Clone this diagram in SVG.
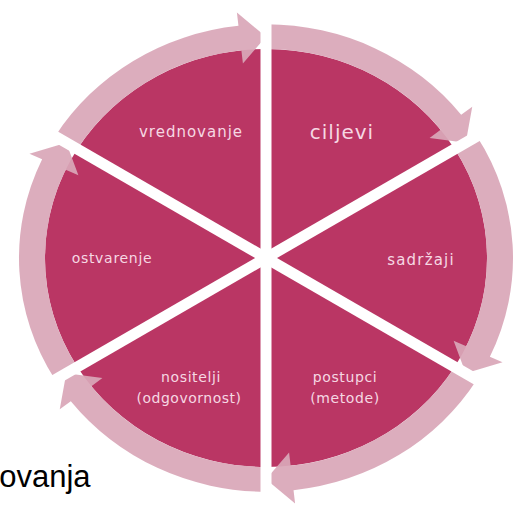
<svg xmlns="http://www.w3.org/2000/svg" width="520" height="509" viewBox="0 0 520 509">
<style>
.wedge{fill:#BA3664}
.arrow{fill:#D9A7B8;opacity:0.93}
.gap{stroke:#FFFFFF;stroke-width:11;fill:none}
.lbl{font-family:"DejaVu Sans",sans-serif;fill:#F6D8E3;text-anchor:middle}
</style>
<rect width="520" height="509" fill="#FFFFFF"/>
<g id="ciljevi">
<path class="wedge" d="M266 258 L266 48.93 A221 209.07 0 0 1 454.65 149.07 Z"/>
<text class="lbl" x="342" y="139" font-size="20" letter-spacing="1" fill="#FBEAF0">ciljevi</text>
</g>
<g id="sadrzaji">
<path class="wedge" d="M266 258 L454.65 149.07 A221 209.07 0 0 1 454.65 366.93 Z"/>
<text class="lbl" x="421" y="265" font-size="15" letter-spacing="1.2">sadržaji</text>
</g>
<g id="postupci">
<path class="wedge" d="M266 258 L454.65 366.93 A221 209.07 0 0 1 266 467.07 Z"/>
<text class="lbl" x="345" y="382" font-size="14" letter-spacing="0.6">postupci</text>
<text class="lbl" x="345" y="403" font-size="14" letter-spacing="0.6">(metode)</text>
</g>
<g id="nositelji">
<path class="wedge" d="M266 258 L266 467.07 A221 209.07 0 0 1 77.35 366.93 Z"/>
<text class="lbl" x="191" y="382" font-size="14" letter-spacing="0.6">nositelji</text>
<text class="lbl" x="189" y="403" font-size="14" letter-spacing="0.5">(odgovornost)</text>
</g>
<g id="ostvarenje">
<path class="wedge" d="M266 258 L77.35 366.93 A221 209.07 0 0 1 77.35 149.07 Z"/>
<text class="lbl" x="112" y="263" font-size="14" letter-spacing="0.7">ostvarenje</text>
</g>
<g id="vrednovanje">
<path class="wedge" d="M266 258 L77.35 149.07 A221 209.07 0 0 1 266 48.93 Z"/>
<text class="lbl" x="191" y="137" font-size="15" letter-spacing="1">vrednovanje</text>
</g>
<g id="connectors">
<path class="arrow" d="M266 24.34 A247 233.66 0 0 1 461.18 114.79 L472.24 106.67 L465.74 142.67 L429.57 137.98 L440.63 129.86 A221 209.07 0 0 0 266 48.93 Z"/>
<path class="arrow" d="M476.84 136.26 A247 233.66 0 0 1 489.86 356.74 L502.54 362.34 L465.74 373.33 L453.60 340.75 L466.29 346.35 A221 209.07 0 0 0 454.65 149.07 Z"/>
<path class="arrow" d="M476.84 379.74 A247 233.66 0 0 1 293.54 490.21 L295.10 503.38 L266 479.36 L289.08 452.61 L290.64 465.77 A221 209.07 0 0 0 454.65 366.93 Z"/>
<path class="arrow" d="M266 491.66 A247 233.66 0 0 1 70.82 401.21 L59.76 409.33 L66.26 373.33 L102.43 378.02 L91.37 386.14 A221 209.07 0 0 0 266 467.07 Z"/>
<path class="arrow" d="M55.16 379.74 A247 233.66 0 0 1 42.14 159.26 L29.46 153.66 L66.26 142.67 L78.40 175.25 L65.71 169.65 A221 209.07 0 0 0 77.35 366.93 Z"/>
<path class="arrow" d="M55.16 136.26 A247 233.66 0 0 1 238.46 25.79 L236.90 12.62 L266 36.64 L242.92 63.39 L241.36 50.23 A221 209.07 0 0 0 77.35 149.07 Z"/>
</g>
<g id="gaps">
<line class="gap" x1="266" y1="0" x2="266" y2="509"/>
<line class="gap" x1="6.2" y1="108" x2="525.8" y2="408"/>
<line class="gap" x1="6.2" y1="408" x2="525.8" y2="108"/>
</g>
<text x="-18" y="487" font-family="'Liberation Sans',Arial,sans-serif" font-size="31" fill="#000000">novanja</text>
</svg>
